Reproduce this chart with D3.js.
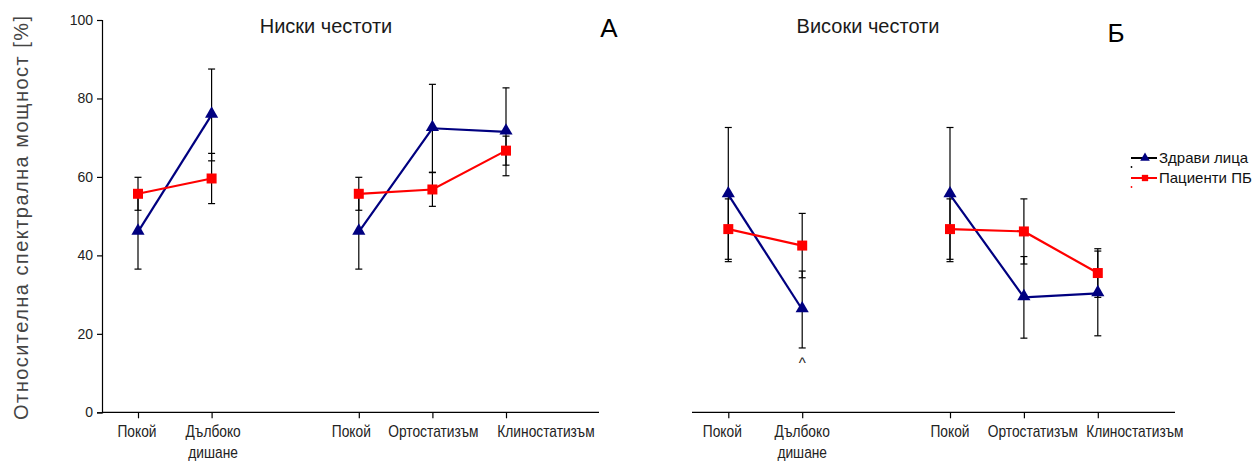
<!DOCTYPE html>
<html>
<head>
<meta charset="utf-8">
<script src="https://cdn.jsdelivr.net/npm/d3@7"></script>
<style>
  html, body { margin: 0; padding: 0; background: #fff; }
  svg { display: block; }
  text { font-family: "Liberation Sans", Arial, sans-serif; }
</style>
</head>
<body>
<svg id="chart" width="1255" height="461"></svg>
<script>
// Condition labels along each x axis (the gap between the two groups is index 2)
const categories = ["Покой", "Дълбоко\nдишане", "Покой", "Ортостатизъм", "Клиностатизъм"];
const positions = [0, 1, 3, 4, 5];
const groups = [[0, 1], [2, 3, 4]];   // points joined by a line
const yTicks = [0, 20, 40, 60, 80, 100];
const seriesNames = ["Здрави лица", "Пациенти ПБ"];

// Low frequencies, relative spectral power [%] (mean and SD)
const lowHealthy = [46.0, 75.8, 46.0, 72.4, 71.5];
const lowHealthyErr = [9.5, 11.7, 9.5, 11.2, 11.2];
const lowPatients = [55.7, 59.6, 55.7, 56.8, 66.7];
const lowPatientsErr = [4.2, 6.4, 4.2, 4.3, 3.7];

// High frequencies
const highHealthy = [55.5, 26.2, 55.5, 29.3, 30.3];
const highHealthyErr = [17.1, 9.8, 17.1, 10.4, 10.8];
const highPatients = [46.7, 42.5, 46.7, 46.1, 35.5];
const highPatientsErr = [7.7, 8.2, 7.7, 8.3, 6.2];

const BLUE = "#000080", RED = "#ff0000";
const svg = d3.select("#chart");

const y = d3.scaleLinear().domain([0, 100]).range([412.3, 20]);

// condensed label: regular face squeezed horizontally
function narrowText(parent, x, yPos, size, lines, fill) {
  const t = parent.append("text")
    .attr("transform", `translate(${x},${yPos}) scale(0.86,1)`)
    .attr("text-anchor", "middle").attr("font-size", size).attr("fill", fill);
  lines.forEach((line, k) => {
    t.append("tspan").attr("x", 0).attr("dy", k === 0 ? 0 : 21).text(line);
  });
  return t;
}

function panel(opts) {
  const g = svg.append("g");
  const x = d3.scaleLinear().domain([0, 1]).range([opts.x0, opts.x0 + opts.step]);

  // x axis line and ticks
  g.append("line").attr("x1", opts.axisL).attr("x2", opts.axisR)
    .attr("y1", y(0)).attr("y2", y(0)).attr("stroke", "#000").attr("stroke-width", 1.2);
  const xa = d3.axisBottom(x).tickValues(positions).tickSize(6).tickFormat("");
  const xg = g.append("g").attr("transform", `translate(0,${y(0)})`).call(xa);
  xg.select(".domain").remove();
  xg.selectAll(".tick line").attr("stroke", "#000").attr("stroke-width", 1.2);

  // long labels are nudged sideways so neighbours do not collide
  categories.forEach((c, i) => {
    narrowText(g, x(positions[i]) + opts.labelDx[i], 437, 16, c.split("\n"), "#222");
  });

  // series: error bars, connecting lines, markers
  const series = [
    { v: opts.healthy, e: opts.healthyErr, color: BLUE, sym: d3.symbolTriangle, size: 75 },
    { v: opts.patients, e: opts.patientsErr, color: RED, sym: d3.symbolSquare, size: 100 }
  ];
  series.forEach(s => {
    const eb = g.append("g");
    s.v.forEach((v, i) => {
      const px = x(positions[i]);
      eb.append("line").attr("x1", px).attr("x2", px)
        .attr("y1", y(v - s.e[i])).attr("y2", y(v + s.e[i]))
        .attr("stroke", "#000").attr("stroke-width", 1.2);
      [v - s.e[i], v + s.e[i]].forEach(ev => {
        eb.append("line").attr("x1", px - 3.5).attr("x2", px + 3.5)
          .attr("y1", y(ev)).attr("y2", y(ev))
          .attr("stroke", "#000").attr("stroke-width", 1.2);
      });
    });
  });
  series.forEach(s => {
    groups.forEach(idx => {
      const pts = idx.map(i => [x(positions[i]), y(s.v[i])]);
      g.append("path").attr("d", d3.line()(pts))
        .attr("fill", "none").attr("stroke", s.color).attr("stroke-width", 2.2);
    });
    const pts = s.v.map((v, i) => [x(positions[i]), y(v)]);
    g.selectAll(null).data(pts).enter().append("path")
      .attr("d", d3.symbol().type(s.sym).size(s.size)())
      .attr("transform", d => `translate(${d[0]},${d[1] + (s.sym === d3.symbolTriangle ? -1 : 0)})`)
      .attr("fill", s.color);
  });

  // panel title and letter
  g.append("text").attr("x", opts.titleX).attr("y", 32.5)
    .attr("text-anchor", "middle").attr("font-size", 20).attr("fill", "#1a1a1a").text(opts.title);
  g.append("text").attr("x", opts.letterX).attr("y", opts.letterY)
    .attr("text-anchor", "middle").attr("font-size", 26).attr("fill", "#000").text(opts.letter);
  return { g, x };
}

// Left panel: low frequencies, with the y axis
const left = panel({
  x0: 138, step: 73.6, axisL: 102, axisR: 599, labelDx: [-1, 1.5, -7.5, 1, 40],
  healthy: lowHealthy, healthyErr: lowHealthyErr,
  patients: lowPatients, patientsErr: lowPatientsErr,
  title: "Ниски честоти", titleX: 326, letter: "А", letterX: 609, letterY: 37
});
const ya = d3.axisLeft(y).tickValues(yTicks).tickSize(5).tickPadding(4);
const yg = svg.append("g").attr("transform", "translate(102,0)").call(ya);
yg.select(".domain").attr("stroke", "#000").attr("stroke-width", 1.2);
yg.selectAll(".tick line").attr("stroke", "#000").attr("stroke-width", 1.2);
yg.selectAll(".tick text").attr("font-family", null).attr("font-size", 14).attr("fill", "#222");

svg.append("text")
  .attr("transform", "translate(28,218) rotate(-90)")
  .attr("text-anchor", "middle").attr("font-size", 20).attr("fill", "#444")
  .attr("textLength", 404).attr("lengthAdjust", "spacing")
  .text("Относителна спектрална мощност [%]");

// Right panel: high frequencies
const right = panel({
  x0: 728.3, step: 73.9, axisL: 692, axisR: 1175, labelDx: [-6, 0, 0, 9, 37],
  healthy: highHealthy, healthyErr: highHealthyErr,
  patients: highPatients, patientsErr: highPatientsErr,
  title: "Високи честоти", titleX: 868, letter: "Б", letterX: 1116, letterY: 42
});
right.g.append("text").attr("x", right.x(1)).attr("y", 368)
  .attr("text-anchor", "middle").attr("font-size", 15).attr("fill", "#222").text("^");

// Legend
const legend = svg.append("g");
const legendColors = [BLUE, RED];
const legendSyms = [d3.symbolTriangle, d3.symbolSquare];
seriesNames.forEach((name, i) => {
  const ly = 158 + i * 20;
  legend.append("line").attr("x1", 1131).attr("x2", 1157).attr("y1", ly).attr("y2", ly)
    .attr("stroke", i === 0 ? "#000" : RED).attr("stroke-width", 2);
  legend.append("path").attr("d", d3.symbol().type(legendSyms[i]).size(40)())
    .attr("transform", `translate(1145,${ly})`).attr("fill", legendColors[i]);
  legend.append("circle").attr("cx", 1131.5).attr("cy", ly + 9)
    .attr("r", 0.9).attr("fill", i === 0 ? "#000" : RED);
  legend.append("text").attr("x", 1159).attr("y", ly + 5)
    .attr("font-size", 15).attr("fill", "#111").text(name);
});
</script>
</body>
</html>
